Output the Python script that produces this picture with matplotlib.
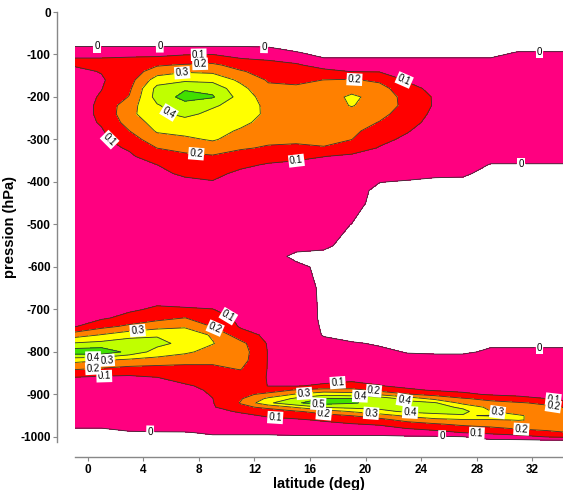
import numpy as np
import matplotlib
matplotlib.use("Agg")
import matplotlib.pyplot as plt

plt.rcParams['font.family'] = ['Liberation Sans', 'DejaVu Sans']
plt.rcParams['axes.unicode_minus'] = False

# ---------------- data ----------------
latitude = [-1, 1, 3, 5, 7, 9, 11, 13, 15, 17, 19, 21, 23, 25, 27, 29, 31, 33, 35]

pressure = [-80, -95, -110, -125, -140, -160, -180, -200, -220, -240, -260, -280,
            -300, -320, -340, -360, -380, -400, -420, -450,
            -500, -550, -575, -600, -650, -680,
            -700, -720, -740, -760, -780, -800, -820, -840, -860, -880, -890, -900,
            -910, -920, -930, -940, -950, -960, -970, -980, -990, -1000, -1012]

# one list per latitude column (values top -> bottom, matching `pressure`)
col_m1 = [-0.005, 0.06, 0.105, 0.105, 0.08, 0.06, 0.05, 0.05, 0.05, 0.05, 0.05, 0.05, 0.05, 0.05, 0.05, 0.05, 0.05, 0.05, 0.05, 0.05,
          0.05, 0.05, 0.05, 0.05, 0.05, 0.05,
          0.05, 0.06, 0.09, 0.25, 0.41, 0.56, 0.33, 0.21, 0.098, 0.07, 0.06, 0.055, 0.05, 0.05, 0.05, 0.05, 0.05, 0.045, 0.03, -0.002, -0.03, -0.05, -0.08]
col_1 = [-0.005, 0.06, 0.105, 0.11, 0.104, 0.09, 0.097, 0.11, 0.12, 0.12, 0.11, 0.09, 0.08, 0.07, 0.06, 0.055, 0.05, 0.05, 0.05, 0.05,
         0.05, 0.05, 0.05, 0.05, 0.05, 0.05,
         0.05, 0.085, 0.17, 0.305, 0.43, 0.57, 0.302, 0.19, 0.085, 0.06, 0.055, 0.05, 0.05, 0.05, 0.05, 0.05, 0.05, 0.05, 0.03, -0.002, -0.03, -0.05, -0.08]
col_3 = [-0.005, 0.07, 0.11, 0.13, 0.145, 0.16, 0.18, 0.205, 0.26, 0.27, 0.24, 0.198, 0.15, 0.11, 0.085, 0.07, 0.06, 0.05, 0.05, 0.05,
         0.05, 0.05, 0.05, 0.05, 0.05, 0.05,
         0.085, 0.13, 0.22, 0.36, 0.46, 0.47, 0.27, 0.17, 0.08, 0.06, 0.055, 0.05, 0.05, 0.05, 0.05, 0.05, 0.05, 0.05, 0.04, 0.02, -0.01, -0.04, -0.07]
col_5 = [-0.005, 0.07, 0.115, 0.19, 0.25, 0.35, 0.43, 0.44, 0.39, 0.38, 0.34, 0.31, 0.26, 0.201, 0.15, 0.099, 0.08, 0.06, 0.055, 0.05,
         0.05, 0.05, 0.05, 0.05, 0.05, 0.08,
         0.115, 0.17, 0.26, 0.39, 0.43, 0.36, 0.26, 0.16, 0.099, 0.07, 0.065, 0.06, 0.06, 0.06, 0.055, 0.055, 0.05, 0.05, 0.04, 0.02, -0.005, -0.03, -0.06]
col_7 = [-0.005, 0.08, 0.13, 0.21, 0.29, 0.38, 0.49, 0.53, 0.47, 0.42, 0.37, 0.33, 0.28, 0.24, 0.17, 0.14, 0.115, 0.08, 0.06, 0.05,
         0.05, 0.05, 0.05, 0.05, 0.05, 0.07,
         0.11, 0.201, 0.29, 0.35, 0.37, 0.32, 0.23, 0.17, 0.13, 0.09, 0.08, 0.07, 0.065, 0.06, 0.06, 0.06, 0.06, 0.055, 0.045, 0.025, -0.005, -0.03, -0.06]
col_9 = [-0.005, 0.08, 0.14, 0.22, 0.28, 0.37, 0.47, 0.51, 0.41, 0.38, 0.36, 0.33, 0.31, 0.25, 0.19, 0.15, 0.125, 0.095, 0.07, 0.05,
         0.05, 0.05, 0.05, 0.05, 0.05, 0.07,
         0.102, 0.17, 0.195, 0.29, 0.305, 0.26, 0.22, 0.18, 0.14, 0.12, 0.11, 0.105, 0.099, 0.095, 0.09, 0.075, 0.065, 0.06, 0.05, 0.03, 0.01, -0.01, -0.04]
col_11 = [-0.005, 0.07, 0.102, 0.16, 0.21, 0.28, 0.33, 0.36, 0.37, 0.35, 0.32, 0.29, 0.26, 0.21, 0.16, 0.12, 0.08, 0.065, 0.06, 0.05,
          0.05, 0.05, 0.05, 0.05, 0.05, 0.05,
          0.06, 0.07, 0.09, 0.14, 0.23, 0.25, 0.24, 0.205, 0.16, 0.15, 0.15, 0.17, 0.19, 0.205, 0.18, 0.11, 0.08, 0.07, 0.06, 0.04, 0.01, -0.01, -0.04]
col_13 = [-0.01, 0.05, 0.09, 0.13, 0.16, 0.19, 0.22, 0.25, 0.27, 0.28, 0.27, 0.25, 0.22, 0.19, 0.14, 0.09, 0.07, 0.06, 0.055, 0.05,
          0.05, 0.045, 0.04, 0.045, 0.05, 0.05,
          0.05, 0.055, 0.065, 0.08, 0.09, 0.095, 0.095, 0.095, 0.095, 0.098, 0.15, 0.23, 0.32, 0.38, 0.22, 0.16, 0.11, 0.08, 0.06, 0.04, 0.01, -0.01, -0.04]
col_15 = [-0.04, 0.005, 0.07, 0.11, 0.15, 0.18, 0.215, 0.24, 0.26, 0.27, 0.27, 0.25, 0.22, 0.18, 0.12, 0.08, 0.065, 0.06, 0.055, 0.05,
          0.045, 0.03, -0.02, 0.02, 0.04, 0.045,
          0.05, 0.05, 0.05, 0.05, 0.05, 0.05, 0.05, 0.055, 0.06, 0.095, 0.21, 0.31, 0.42, 0.49, 0.31, 0.19, 0.13, 0.09, 0.07, 0.05, 0.02, -0.01, -0.04]
col_17 = [-0.06, -0.03, 0.005, 0.07, 0.12, 0.201, 0.235, 0.26, 0.26, 0.255, 0.25, 0.24, 0.22, 0.195, 0.101, 0.075, 0.065, 0.06, 0.055, 0.05,
          0.04, 0.02, -0.03, -0.02, -0.015, -0.015,
          -0.015, -0.015, -0.01, -0.005, 0.02, 0.04, 0.05, 0.055, 0.06, 0.115, 0.24, 0.37, 0.51, 0.54, 0.41, 0.24, 0.17, 0.11, 0.08, 0.06, 0.02, -0.01, -0.04]
col_19 = [-0.06, -0.03, 0.005, 0.06, 0.098, 0.21, 0.27, 0.315, 0.305, 0.27, 0.25, 0.225, 0.201, 0.14, 0.085, 0.07, 0.06, 0.055, 0.05, 0.05,
          -0.002, -0.04, -0.05, -0.05, -0.05, -0.05,
          -0.05, -0.05, -0.045, -0.04, 0.01, 0.04, 0.05, 0.055, 0.07, 0.13, 0.235, 0.35, 0.505, 0.51, 0.43, 0.31, 0.201, 0.14, 0.095, 0.07, 0.02, -0.01, -0.04]
col_21 = [-0.06, -0.03, 0.005, 0.05, 0.095, 0.18, 0.24, 0.27, 0.26, 0.23, 0.195, 0.15, 0.12, 0.095, 0.07, 0.06, 0.04, 0.003, -0.03, -0.05,
          -0.06, -0.06, -0.06, -0.06, -0.06, -0.06,
          -0.06, -0.06, -0.05, -0.04, -0.01, 0.02, 0.04, 0.05, 0.06, 0.105, 0.17, 0.28, 0.48, 0.47, 0.43, 0.37, 0.25, 0.17, 0.11, 0.07, 0.02, -0.01, -0.04]
col_23 = [-0.06, -0.03, 0.005, 0.04, 0.06, 0.09, 0.13, 0.16, 0.17, 0.15, 0.13, 0.105, 0.085, 0.07, 0.06, 0.05, 0.04, -0.01, -0.04, -0.06,
          -0.07, -0.07, -0.07, -0.07, -0.07, -0.07,
          -0.07, -0.07, -0.06, -0.05, -0.03, -0.005, 0.03, 0.045, 0.05, 0.075, 0.12, 0.21, 0.36, 0.44, 0.45, 0.42, 0.32, 0.23, 0.16, 0.102, 0.04, -0.01, -0.04]
col_25 = [-0.06, -0.03, 0.005, 0.03, 0.045, 0.06, 0.075, 0.09, 0.09, 0.08, 0.07, 0.06, 0.055, 0.05, 0.045, 0.04, 0.02, -0.02, -0.04, -0.06,
          -0.07, -0.07, -0.07, -0.07, -0.07, -0.07,
          -0.07, -0.07, -0.06, -0.05, -0.03, -0.01, 0.03, 0.045, 0.05, 0.07, 0.09, 0.17, 0.27, 0.41, 0.44, 0.43, 0.37, 0.27, 0.19, 0.135, 0.06, -0.01, -0.04]
col_27 = [-0.06, -0.03, 0.005, 0.03, 0.04, 0.05, 0.055, 0.06, 0.06, 0.06, 0.055, 0.05, 0.05, 0.05, 0.045, 0.04, 0.015, -0.02, -0.04, -0.06,
          -0.07, -0.07, -0.07, -0.07, -0.07, -0.07,
          -0.07, -0.07, -0.06, -0.05, -0.03, -0.01, 0.03, 0.045, 0.05, 0.06, 0.08, 0.12, 0.21, 0.27, 0.38, 0.43, 0.39, 0.29, 0.22, 0.16, 0.101, -0.005, -0.04]
col_29 = [-0.06, -0.03, 0.005, 0.03, 0.04, 0.05, 0.05, 0.05, 0.05, 0.05, 0.05, 0.05, 0.05, 0.04, 0.03, -0.005, -0.03, -0.05, -0.06, -0.07,
          -0.07, -0.07, -0.07, -0.07, -0.07, -0.07,
          -0.07, -0.07, -0.06, -0.04, -0.01, 0.01, 0.03, 0.04, 0.045, 0.05, 0.06, 0.09, 0.17, 0.23, 0.27, 0.302, 0.41, 0.29, 0.24, 0.18, 0.12, 0.05, -0.05]
col_31 = [-0.04, 0.005, 0.03, 0.04, 0.045, 0.05, 0.05, 0.05, 0.05, 0.05, 0.05, 0.05, 0.05, 0.04, 0.03, -0.005, -0.03, -0.05, -0.06, -0.07,
          -0.07, -0.07, -0.07, -0.07, -0.07, -0.07,
          -0.07, -0.07, -0.06, -0.04, -0.01, 0.01, 0.03, 0.035, 0.04, 0.04, 0.05, 0.08, 0.13, 0.21, 0.23, 0.26, 0.31, 0.305, 0.26, 0.21, 0.14, 0.07, -0.06]
col_33 = [-0.04, 0.005, 0.03, 0.04, 0.045, 0.05, 0.05, 0.05, 0.05, 0.05, 0.05, 0.05, 0.05, 0.04, 0.03, -0.005, -0.03, -0.05, -0.06, -0.07,
          -0.07, -0.07, -0.07, -0.07, -0.07, -0.07,
          -0.07, -0.07, -0.06, -0.04, -0.01, 0.01, 0.03, 0.035, 0.04, 0.04, 0.045, 0.06, 0.101, 0.18, 0.22, 0.24, 0.26, 0.28, 0.26, 0.23, 0.17, 0.101, -0.06]
col_35 = [-0.04, 0.005, 0.03, 0.04, 0.045, 0.05, 0.05, 0.05, 0.05, 0.05, 0.05, 0.05, 0.05, 0.04, 0.03, -0.005, -0.03, -0.05, -0.06, -0.07,
          -0.07, -0.07, -0.07, -0.07, -0.07, -0.07,
          -0.07, -0.07, -0.06, -0.04, -0.01, 0.01, 0.03, 0.035, 0.035, 0.035, 0.04, 0.05, 0.07, 0.11, 0.18, 0.22, 0.24, 0.25, 0.24, 0.22, 0.205, 0.12, -0.06]

levels = [0, 0.1, 0.2, 0.3, 0.4, 0.5, 0.6]
x_ticks = [0, 4, 8, 12, 16, 20, 24, 28, 32]
y_ticks = [0, -100, -200, -300, -400, -500, -600, -700, -800, -900, -1000]

# where the inline contour labels sit (per level)
label_spots = {
    0.0: [(0.7, -82), (5.2, -82), (12.7, -84), (32.5, -94), (31.2, -357),
          (32.5, -793), (4.5, -988), (25.5, -998)],
    0.1: [(8.0, -106), (1.6, -300), (15.0, -344), (22.8, -158), (10.2, -711),
          (1.2, -852), (18.0, -876), (13.5, -955), (28.0, -990), (33.5, -912)],
    0.2: [(8.1, -125), (7.8, -341), (19.2, -158), (9.4, -729), (0.4, -840),
          (20.6, -889), (17.0, -944), (31.2, -984), (33.5, -928)],
    0.3: [(6.8, -141), (3.6, -748), (1.4, -822), (15.6, -900), (20.4, -944), (29.5, -940)],
    0.4: [(6.0, -231), (0.4, -810), (19.6, -903), (22.8, -912), (23.2, -944)],
    0.5: [(16.6, -921)],
}

fill_colors = ['#FF0080', '#FF0000', '#FF8000', '#FFFF00', '#C0FF00', '#40E000']

# ---------------- plot ----------------
Z = np.column_stack([col_m1, col_1, col_3, col_5, col_7, col_9, col_11, col_13, col_15,
                     col_17, col_19, col_21, col_23, col_25, col_27, col_29, col_31,
                     col_33, col_35])

fig = plt.figure(figsize=(5.63, 4.9), dpi=100)
ax = fig.add_axes([75 / 563, 48 / 490, 488 / 563, 430 / 490])
ax.set_xlim(-0.9, 34.2)
ax.set_ylim(-1012, 0)

ax.contourf(latitude, pressure, Z, levels=levels, colors=fill_colors)

for lev, pts in label_spots.items():
    cs = ax.contour(latitude, pressure, Z, levels=[lev], colors='#333333', linewidths=0.6)
    texts = ax.clabel(cs, manual=pts, inline=True, inline_spacing=2,
                      fmt='%g', fontsize=7, colors='black')
    for t in texts:
        t.set_bbox(dict(boxstyle='square,pad=0.12', fc='white', ec='none'))

ax.set_xlim(-0.9, 34.2)
ax.set_ylim(-1012, 0)
ax.set_xticks(x_ticks)
ax.set_yticks(y_ticks)
for s in ['top', 'right']:
    ax.spines[s].set_visible(False)
ax.spines['left'].set_position(('outward', 13))
ax.spines['bottom'].set_position(('outward', 11))
for s in ['left', 'bottom']:
    ax.spines[s].set_color('#888888')
    ax.spines[s].set_linewidth(1.0)
ax.tick_params(direction='out', length=3, width=0.8, color='#888888',
               labelsize=8.5, pad=1.5)
for lbl in ax.get_xticklabels() + ax.get_yticklabels():
    lbl.set_fontweight('bold')

ax.set_xlabel('latitude (deg)', fontsize=10.5, fontweight='bold', labelpad=1)
ax.set_ylabel('pression (hPa)', fontsize=10.5, fontweight='bold', labelpad=2)

fig.savefig('out.png', dpi=100)
